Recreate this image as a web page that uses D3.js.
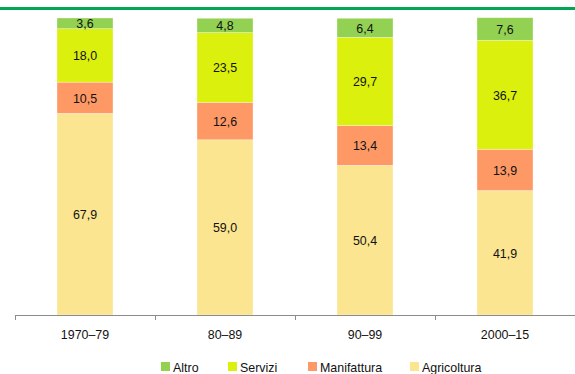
<!DOCTYPE html>
<html>
<head>
<meta charset="utf-8">
<script src="https://cdn.jsdelivr.net/npm/d3@7"></script>
<style>
  html, body { margin: 0; padding: 0; background: #fff; }
  svg { display: block; }
  text { font-family: "Liberation Sans", Arial, sans-serif; }
</style>
</head>
<body>
<svg id="chart" width="575" height="374"></svg>
<script>
// Periods and sector shares (% of total)
const periods = ["1970–79", "80–89", "90–99", "2000–15"];
const agricoltura = [67.9, 59.0, 50.4, 41.9];
const manifattura = [10.5, 12.6, 13.4, 13.9];
const servizi = [18.0, 23.5, 29.7, 36.7];
const altro = [3.6, 4.8, 6.4, 7.6];

const seriesNames = ["Agricoltura", "Manifattura", "Servizi", "Altro"];
const seriesValues = [agricoltura, manifattura, servizi, altro];
const colors = {
  Agricoltura: "#fbe590",
  Manifattura: "#fe9966",
  Servizi: "#dcf00d",
  Altro: "#93d152"
};
const legendOrder = ["Altro", "Servizi", "Manifattura", "Agricoltura"];

// Slightly condensed type, as in the printed figure
const FONT = 13.5;
const SQUEEZE = 0.92;

const rows = periods.map((p, i) => {
  const r = { period: p };
  seriesNames.forEach((s, k) => { r[s] = seriesValues[k][i]; });
  return r;
});

const svg = d3.select("#chart");

// Green rule along the top
svg.append("rect")
  .attr("x", 0).attr("y", 7)
  .attr("width", 575).attr("height", 3)
  .attr("fill", "#00a651");

const x = d3.scaleBand().domain(periods).range([15, 575]).paddingInner(0.6).paddingOuter(0.3);
const y = d3.scaleLinear().domain([0, 100]).range([315, 18]);

const stack = d3.stack().keys(seriesNames);
const layers = stack(rows);

function placeText(sel, fx, fy) {
  sel.attr("transform", d => `translate(${fx(d)},${fy(d)}) scale(${SQUEEZE},1)`);
}

const g = svg.append("g");
layers.forEach(layer => {
  const key = layer.key;
  const lg = g.append("g");
  lg.selectAll("rect")
    .data(layer)
    .join("rect")
    .attr("x", d => x(d.data.period))
    .attr("width", x.bandwidth())
    .attr("y", d => y(d[1]))
    .attr("height", d => y(d[0]) - y(d[1]))
    .attr("fill", colors[key])
    .attr("stroke", "rgba(255,255,255,0.45)")
    .attr("stroke-width", 0.7);
  lg.selectAll("text")
    .data(layer)
    .join("text")
    .call(placeText,
      d => x(d.data.period) + x.bandwidth() / 2,
      d => (y(d[0]) + y(d[1])) / 2)
    .attr("dy", "0.36em")
    .attr("text-anchor", "middle")
    .attr("font-size", FONT)
    .attr("fill", "#111")
    .text(d => d3.format(".1f")(d.data[key]).replace(".", ","));
});

// Category axis with boundary ticks between periods
const axisG = svg.append("g");
axisG.append("line")
  .attr("x1", 15).attr("x2", 575)
  .attr("y1", 315.5).attr("y2", 315.5)
  .attr("stroke", "#8c8c8c").attr("stroke-width", 1);
const step = x.step();
const boundaries = periods.map((p, i) => 15 + i * step).concat([15 + periods.length * step]);
axisG.selectAll("line.tick")
  .data(boundaries)
  .join("line")
  .attr("class", "tick")
  .attr("x1", d => Math.round(d) + 0.5).attr("x2", d => Math.round(d) + 0.5)
  .attr("y1", 315).attr("y2", 320)
  .attr("stroke", "#8c8c8c");
axisG.selectAll("text")
  .data(periods)
  .join("text")
  .call(placeText, d => x(d) + x.bandwidth() / 2, () => 334)
  .attr("dy", "0.36em")
  .attr("text-anchor", "middle")
  .attr("font-size", FONT)
  .attr("fill", "#111")
  .text(d => d);

// Legend
const legendX = [161, 228, 308, 410];
const leg = svg.append("g");
legendOrder.forEach((name, i) => {
  leg.append("rect")
    .attr("x", legendX[i]).attr("y", 362)
    .attr("width", 9).attr("height", 9)
    .attr("fill", colors[name]);
  leg.append("text")
    .datum(name)
    .call(placeText, () => legendX[i] + 12, () => 367)
    .attr("dy", "0.36em")
    .attr("font-size", FONT)
    .attr("fill", "#111")
    .text(name);
});
</script>
</body>
</html>
